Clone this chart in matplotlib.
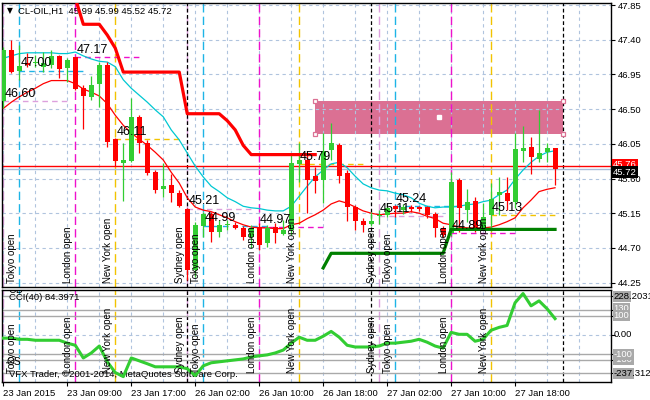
import matplotlib
matplotlib.use("Agg")
import matplotlib.pyplot as plt
from matplotlib.patches import Rectangle

plt.rcParams["font.family"] = ["Liberation Sans", "DejaVu Sans"]

# --- CL-OIL H1 candles (bar 0 = 23 Jan 01:00 ... bar 69 = 27 Jan 23:00) ---
opens = [46.60, 47.27, 47.00, 47.10, 47.10, 47.05, 47.07, 47.19, 47.03, 47.17,
         46.77, 46.66, 46.83, 47.07, 46.11, 45.80, 45.83, 46.40, 46.06, 45.69,
         45.46, 45.52, 45.41, 45.21, 44.41, 44.99, 45.14, 44.91, 45.00, 45.00,
         44.96, 44.84, 44.97, 44.76, 44.97, 44.88, 44.93, 45.79, 45.84, 45.63,
         45.58, 45.97, 46.04, 45.67, 45.23, 45.05, 45.01, 45.11, 45.13, 45.24,
         45.19, 45.23, 45.23, 45.23, 45.14, 44.96, 44.89, 45.58, 45.19, 45.31,
         44.96, 45.13, 45.39, 45.41, 45.30, 45.96, 46.01, 45.85, 45.94, 45.99]
highs = [47.30, 47.40, 47.33, 47.23, 47.20, 47.24, 47.27, 47.20, 47.16, 47.18,
         46.81, 46.93, 47.11, 47.11, 46.13, 46.06, 46.64, 46.42, 46.10, 45.71,
         45.80, 45.66, 45.45, 45.22, 45.04, 45.17, 45.17, 45.06, 45.06, 45.04,
         44.98, 45.00, 45.02, 45.00, 45.02, 45.06, 45.92, 46.06, 45.90, 45.75,
         46.19, 46.32, 46.06, 45.71, 45.26, 45.09, 45.17, 45.19, 45.28, 45.26,
         45.27, 45.26, 45.24, 45.24, 45.17, 44.98, 45.68, 45.61, 45.46, 45.36,
         45.28, 45.54, 45.62, 45.62, 46.19, 46.28, 46.14, 46.49, 46.06, 45.99]
lows = [46.52, 46.97, 46.88, 47.05, 47.05, 46.98, 47.03, 46.90, 46.85, 46.75,
        46.24, 46.62, 46.53, 46.01, 45.76, 45.31, 45.81, 45.93, 45.65, 45.41,
        45.36, 45.30, 45.23, 44.28, 44.32, 44.84, 44.78, 44.84, 44.93, 44.95,
        44.80, 44.70, 44.67, 44.71, 44.76, 44.87, 44.87, 45.56, 45.15, 45.41,
        45.28, 45.84, 45.54, 45.05, 44.93, 44.91, 44.98, 45.01, 45.10, 45.10,
        45.14, 45.17, 45.18, 45.09, 44.84, 44.84, 44.86, 44.91, 45.04, 44.91,
        44.93, 44.92, 45.13, 45.19, 45.22, 45.81, 45.66, 45.81, 45.81, 45.52]
closes = [47.27, 46.98, 47.06, 47.07, 47.11, 47.10, 47.19, 47.02, 47.14, 46.76,
          46.67, 46.81, 47.07, 46.07, 45.83, 45.84, 46.40, 46.06, 45.67, 45.45,
          45.50, 45.41, 45.24, 44.41, 45.00, 45.14, 44.91, 45.00, 45.01, 44.96,
          44.84, 44.96, 44.74, 44.96, 44.89, 44.93, 45.80, 45.84, 45.58, 45.57,
          45.96, 46.06, 45.63, 45.23, 45.05, 45.00, 45.05, 45.13, 45.22, 45.21,
          45.23, 45.21, 45.21, 45.13, 44.96, 44.87, 45.55, 45.22, 45.30, 44.96,
          45.10, 45.33, 45.43, 45.31, 45.98, 46.00, 45.88, 45.93, 45.99, 45.72]

ma_fast = [46.51, 46.59, 46.66, 46.72, 46.77, 46.83, 46.87, 46.87, 46.87, 46.83,
           46.76, 46.72, 46.67, 46.57, 46.42, 46.29, 46.19, 46.11, 46.03, 45.94,
           45.84, 45.68, 45.54, 45.35, 45.23, 45.19, 45.17, 45.13, 45.09, 45.04,
           45.00, 44.97, 44.96, 44.96, 44.95, 44.95, 45.00, 45.02, 45.08, 45.13,
           45.19, 45.27, 45.31, 45.28, 45.23, 45.18, 45.15, 45.13, 45.14, 45.15,
           45.15, 45.17, 45.15, 45.11, 45.08, 45.02, 45.00, 44.97, 44.96, 44.96,
           44.96, 44.97, 45.00, 45.04, 45.09, 45.22, 45.32, 45.43, 45.46, 45.48]
ma_slow = [47.16, 47.19, 47.22, 47.23, 47.23, 47.23, 47.23, 47.22, 47.22, 47.24,
           47.19, 47.15, 47.12, 47.11, 47.05, 46.88, 46.77, 46.68, 46.59, 46.49,
           46.40, 46.23, 46.10, 45.93, 45.76, 45.62, 45.50, 45.43, 45.35, 45.30,
           45.24, 45.22, 45.21, 45.19, 45.18, 45.18, 45.24, 45.37, 45.50, 45.62,
           45.71, 45.79, 45.81, 45.74, 45.63, 45.53, 45.48, 45.45, 45.44, 45.41,
           45.39, 45.35, 45.28, 45.24, 45.22, 45.23, 45.23, 45.24, 45.26, 45.27,
           45.30, 45.32, 45.39, 45.45, 45.59, 45.71, 45.81, 45.89, 45.94, 45.96]

# trailing stop lines (first bar index + values)
stop_red_start = 9
stop_red = [47.94, 47.60, 47.60, 47.60, 47.46, 47.29,
            46.98, 46.98, 46.98, 46.98, 46.98, 46.98, 46.98, 46.98,
            46.44, 46.44, 46.44, 46.44, 46.44, 46.35, 46.23, 46.03,
            45.91, 45.91, 45.91, 45.91, 45.91, 45.91, 45.91, 45.91, 45.91]
stop_green_start = 40
stop_green = [44.44] + [44.63] * 15 + [44.94] * 14

cci = [-17, -17, -23, -23, -28, -28, -28, -28, -43, -54,
       -120, -94, -58, -140, -196, -217, -120, -135, -150, -166,
       -166, -166, -166, -176, -212, -161, -145, -140, -135, -130,
       -125, -115, -109, -104, -94, -79, -43, -12, -28, -28,
       -7, 18, -12, -54, -63, -63, -63, -58, -43, -43,
       -38, -33, -23, -38, -58, -69, 13, 3, 3, -33,
       -23, 24, 39, 49, 167, 215, 151, 177, 136, 84.3971]
cci_levels = [200, 130, 100, -100, -130, -200]
cci_max, cci_min = 228.2031, -237.312

# sessions
session_bars = {
    "Sydney open": [0, 23, 47],
    "Tokyo open": [2, 25, 49],
    "London open": [9, 32, 56],
    "New York open": [14, 37, 61],
}
day_separators = [23, 46, 70]
level_bars = [0, 2, 9, 14, 23, 25, 32, 37, 47, 49, 56, 61]
level_prices = [46.60, 47.00, 47.17, 46.11, 45.21, 44.99, 44.97, 45.79, 45.11, 45.24, 44.89, 45.13]

zone_bars = (39, 70)
zone_prices = (46.18, 46.61)

price_ticks = [47.85, 47.40, 46.95, 46.50, 46.05, 45.60, 45.15, 44.70, 44.25]
time_ticks = [0, 8, 16, 24, 32, 40, 48, 56, 64]
time_labels = ["23 Jan 2015", "23 Jan 09:00", "23 Jan 17:00", "26 Jan 02:00", "26 Jan 10:00",
               "26 Jan 18:00", "27 Jan 02:00", "27 Jan 10:00", "27 Jan 18:00"]
bid, last_line = 45.72, 45.76

# styles
UP, DOWN = "#32CD32", "#FF0000"
SESSION_COLORS = {"Sydney open": "#DDA0DD", "Tokyo open": "#1EB4E6",
                  "London open": "#EE11CC", "New York open": "#F2C300"}
GRID = dict(color="#B0C4DE", linestyle=(0, (3, 3)), linewidth=0.8)
FS = 6.8
XLIM = (-0.17, 75.95)

fig = plt.figure(figsize=(6.5, 4), dpi=100)
ax = fig.add_axes([2 / 650, 113 / 400, 609 / 650, 284 / 400])
ax2 = fig.add_axes([2 / 650, 18 / 400, 609 / 650, 92 / 400])

for a in (ax, ax2):
    a.set_xlim(*XLIM)
    a.set_xticks(range(0, 80, 4), minor=True)
    a.grid(axis="x", which="both", **GRID)
    for s in a.spines.values():
        s.set_color("black")
        s.set_linewidth(1)
    a.tick_params(axis="x", which="minor", length=0)
    # session and day separator lines
    for name, bars in session_bars.items():
        for b in bars:
            a.axvline(b, color=SESSION_COLORS[name], linestyle=(0, (6, 3)), linewidth=1, zorder=1.6)
    for b in day_separators:
        a.axvline(b, color="black", linestyle=(0, (3, 2)), linewidth=0.9, zorder=1.6)

# ---------------- main panel ----------------
ax.set_ylim(44.193, 47.876)
ax.set_yticks(price_ticks)
ax.yaxis.tick_right()
ax.tick_params(axis="y", direction="out", length=3, labelsize=FS, pad=2)
ax.grid(axis="y", **GRID)
ax.set_xticks([])

ax.add_patch(Rectangle((zone_bars[0], zone_prices[0]), zone_bars[1] - zone_bars[0],
                       zone_prices[1] - zone_prices[0], facecolor="#DB7093", edgecolor="none", zorder=1))
ax.plot([zone_bars[0], zone_bars[0], zone_bars[1], zone_bars[1]],
        [zone_prices[0], zone_prices[1], zone_prices[0], zone_prices[1]],
        "s", ms=3.5, mfc="white", mec="#DB7093", mew=0.9, zorder=5, clip_on=False)
ax.plot([(zone_bars[0] + zone_bars[1]) / 2], [(zone_prices[0] + zone_prices[1]) / 2],
        "s", ms=2.5, mfc="white", mec="white", zorder=5)

ax.axhline(last_line, color="red", linewidth=1, zorder=2)
ax.axhline(bid, color="#A8BCD8", linewidth=1, zorder=2)

# session open levels
def session_of(bar):
    for name, bars in session_bars.items():
        if bar in bars:
            return name

for b, p in zip(level_bars, level_prices):
    c = SESSION_COLORS[session_of(b)]
    ax.hlines(p, b, b + 8.5, color=c, linestyle=(0, (4, 3)), linewidth=1, zorder=2)
    ax.annotate(f"{p:.2f}", (b, p), xytext=(0.7, 3), textcoords="offset points",
                fontsize=9, ha="left", va="baseline", zorder=6)

# moving averages
bars_x = list(range(len(closes)))
ax.plot(bars_x, ma_slow, color="#00C8D2", linewidth=0.9, zorder=3)
ax.plot(bars_x, ma_fast, color="red", linewidth=0.9, zorder=3)

# candles
for i, (o, h, l, c) in enumerate(zip(opens, highs, lows, closes)):
    col = UP if c >= o else DOWN
    ax.vlines(i, l, h, color=col, linewidth=0.9, zorder=4)
    ax.bar(i, max(abs(c - o), 0.012), bottom=min(o, c), width=0.62, color=col, zorder=4.1)

ax.plot(range(stop_red_start, stop_red_start + len(stop_red)), stop_red,
        color="red", linewidth=2.3, zorder=4.5)
ax.plot(range(stop_green_start, stop_green_start + len(stop_green)), stop_green,
        color="#008000", linewidth=2.3, zorder=4.5)

# right-side price boxes
ax.annotate(f"{last_line:.2f}", (1, last_line), xycoords=("axes fraction", "data"),
            xytext=(1.5, 1), textcoords="offset points", fontsize=FS, color="white", va="center",
            bbox=dict(boxstyle="square,pad=0.15", fc="red", ec="none"), annotation_clip=False)
ax.annotate(f"{bid:.2f}", (1, bid), xycoords=("axes fraction", "data"),
            xytext=(1.5, -2), textcoords="offset points", fontsize=FS, color="white", va="center",
            bbox=dict(boxstyle="square,pad=0.15", fc="black", ec="none"), annotation_clip=False)

ax.text(0.008, 0.972, "\u25bc", transform=ax.transAxes, fontsize=5.5, va="center",
        family=["DejaVu Sans"])
ax.text(0.026, 0.972, "CL-OIL,H1  45.99 45.99 45.52 45.72", transform=ax.transAxes,
        fontsize=FS, va="center")

# ---------------- CCI panel ----------------
ax2.set_ylim(-245, 233.4)
ax2.plot(bars_x, cci, color=UP, linewidth=2.2, zorder=4)
for v in cci_levels:
    ax2.axhline(v, color="#A9A9A9", linewidth=1, zorder=1.7)
ax2.axhline(0, **GRID)
ax2.yaxis.tick_right()
ax2.set_yticks(cci_levels + [0])
ax2.set_yticklabels([])
ax2.tick_params(axis="y", direction="out", length=3)
ax2.set_xticks(time_ticks)
ax2.set_xticklabels(time_labels, ha="left", fontsize=FS)
ax2.tick_params(axis="x", which="major", direction="out", length=3, pad=2)

def right_label(y, text, box=None, color="black", dy=0):
    kw = {}
    if box:
        kw["bbox"] = dict(boxstyle="square,pad=0.1", fc=box, ec="none")
    ax2.annotate(text, (1, y), xycoords=("axes fraction", "data"), xytext=(2, dy),
                 textcoords="offset points", fontsize=FS, color=color, va="center",
                 annotation_clip=False, **kw)

right_label(130, "130", box="#A9A9A9", color="white", dy=1)
right_label(100, "100", box="#A9A9A9", color="white")
right_label(-130, "-130", box="#A9A9A9", color="white")
right_label(-100, "-100", box="#A9A9A9", color="white")
right_label(200, "228", box="#A9A9A9", color="#A9A9A9")
right_label(-200, "-237", box="#A9A9A9", color="#A9A9A9")
right_label(200, f"{cci_max:.4f}")
right_label(-200, f"{cci_min:.3f}")
right_label(0, "0.00")

ax2.text(0.01, 0.995, "OB", transform=ax2.transAxes, fontsize=FS + 0.5, va="center", clip_on=True)
ax2.text(0.012, 0.965, f"CCI(40) {cci[-1]:.4f}", transform=ax2.transAxes, fontsize=FS, va="top")
ax2.text(0.008, 0.22, "OS", transform=ax2.transAxes, fontsize=FS + 0.5, va="center")
ax2.text(0.012, 0.03, "VFX Trader, \u00a92001-2014, MetaQuotes Software Corp.",
         transform=ax2.transAxes, fontsize=FS, va="bottom")

# rotated session labels in both panels
for a, dy in ((ax, 3.2), (ax2, 6.3)):
    for name, bars in session_bars.items():
        for b in bars:
            if b == 0:
                continue
            a.annotate(name, (b, 0), xycoords=("data", "axes fraction"), xytext=(-1.6, dy),
                       textcoords="offset points", rotation=90, ha="right", va="bottom",
                       fontsize=7, zorder=6)

fig.savefig("out.png", dpi=100)
